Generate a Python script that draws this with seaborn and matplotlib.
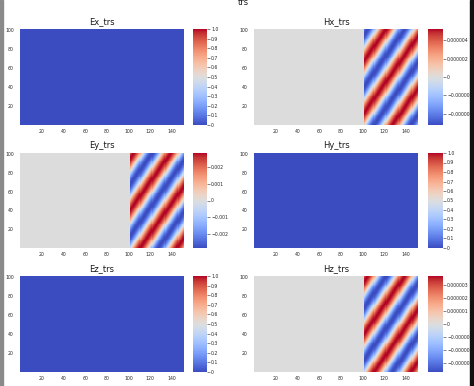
import numpy as np
import pandas as pd
import matplotlib
matplotlib.use('Agg')
import matplotlib.pyplot as plt
import matplotlib.patches as mpatches
from matplotlib.ticker import FuncFormatter
import seaborn as sns

sns.set_style('white')
plt.rcParams['font.family'] = ['DejaVu Sans']

# grid and wave parameters
nx, ny = 151, 101
interface_x = 100
wavelength_x = 34.0
wavelength_y = 55.0
peak_x, peak_y = 104.0, 100.0

panel_names = ['Ex_trs', 'Hx_trs', 'Ey_trs', 'Hy_trs', 'Ez_trs', 'Hz_trs']
amplitudes = [0.0, -5.2e-6, 0.0028, 0.0, 0.0, 3.7e-6]
cbar_ticks = [
    [0, 0.1, 0.2, 0.3, 0.4, 0.5, 0.6, 0.7, 0.8, 0.9, 1.0],
    [-4e-6, -2e-6, 0, 2e-6, 4e-6],
    [-0.002, -0.001, 0, 0.001, 0.002],
    [0, 0.1, 0.2, 0.3, 0.4, 0.5, 0.6, 0.7, 0.8, 0.9, 1.0],
    [0, 0.1, 0.2, 0.3, 0.4, 0.5, 0.6, 0.7, 0.8, 0.9, 1.0],
    [-3e-6, -2e-6, -1e-6, 0, 1e-6, 2e-6, 3e-6],
]
cbar_decimals = [1, 6, 3, 1, 1, 6]
x_ticks = [20, 40, 60, 80, 100, 120, 140]
y_ticks = [20, 40, 60, 80, 100]

xx, yy = np.meshgrid(np.arange(nx), np.arange(ny))
wave = np.cos(2 * np.pi * ((xx - peak_x) / wavelength_x - (yy - peak_y) / wavelength_y))
wave[xx <= interface_x] = 0.0

W, H = 474, 386
fig = plt.figure(figsize=(W / 100, H / 100), dpi=100)

col_x = [(20, 184, 193, 207), (254, 418, 428, 443)]
row_y = [(29, 125), (153, 248), (276, 372)]


def frac_box(x0, x1, y0, y1):
    return [x0 / W, 1 - y1 / H, (x1 - x0) / W, (y1 - y0) / H]


for i, name in enumerate(panel_names):
    r, c = divmod(i, 2)
    ax0, ax1, cb0, cb1 = col_x[c]
    y0, y1 = row_y[r]
    ax = fig.add_axes(frac_box(ax0, ax1, y0, y1))
    cax = fig.add_axes(frac_box(cb0, cb1, y0, y1))

    amp = amplitudes[i]
    if amp == 0:
        field = np.zeros((ny, nx))
        vmin, vmax = 0, 1
    else:
        field = amp * wave
        vmin, vmax = -abs(amp), abs(amp)

    sns.heatmap(pd.DataFrame(field), ax=ax, cbar_ax=cax, cmap='coolwarm',
                vmin=vmin, vmax=vmax, xticklabels=False, yticklabels=False)
    ax.invert_yaxis()
    ax.set_xticks(x_ticks)
    ax.set_xticklabels([str(t) for t in x_ticks])
    ax.set_yticks(y_ticks)
    ax.set_yticklabels([str(t) for t in y_ticks])
    ax.tick_params(axis='both', length=0, labelsize=3.3, colors='.15')
    ax.tick_params(axis='x', pad=3.2)
    ax.tick_params(axis='y', pad=4.5)
    ax.set_xlabel('')
    ax.set_ylabel('')
    ax.set_title(name, fontsize=6, color='.1', pad=3.5)

    d = cbar_decimals[i]
    cax.set_yticks(cbar_ticks[i])
    cax.yaxis.set_major_formatter(FuncFormatter(
        lambda v, p, d=d: '0' if abs(v) < 1e-12 else f'{v:.{d}f}'.replace('-', '\u2212')))
    cax.tick_params(axis='y', length=2, width=0.4, pad=1, labelsize=3.3, colors='.15')

fig.text(243 / W, 1 - 5 / H, 'trs', ha='center', va='baseline', fontsize=6, color='.1')

# screenshot edges
fig.patches.append(mpatches.Rectangle((0, 0), 3 / W, 1, transform=fig.transFigure,
                                      color='#8a8a8a', zorder=10))
fig.patches.append(mpatches.Rectangle((470 / W, 0), 4 / W, 1, transform=fig.transFigure,
                                      color='#111111', zorder=10))

fig.savefig('out.png', dpi=100)
